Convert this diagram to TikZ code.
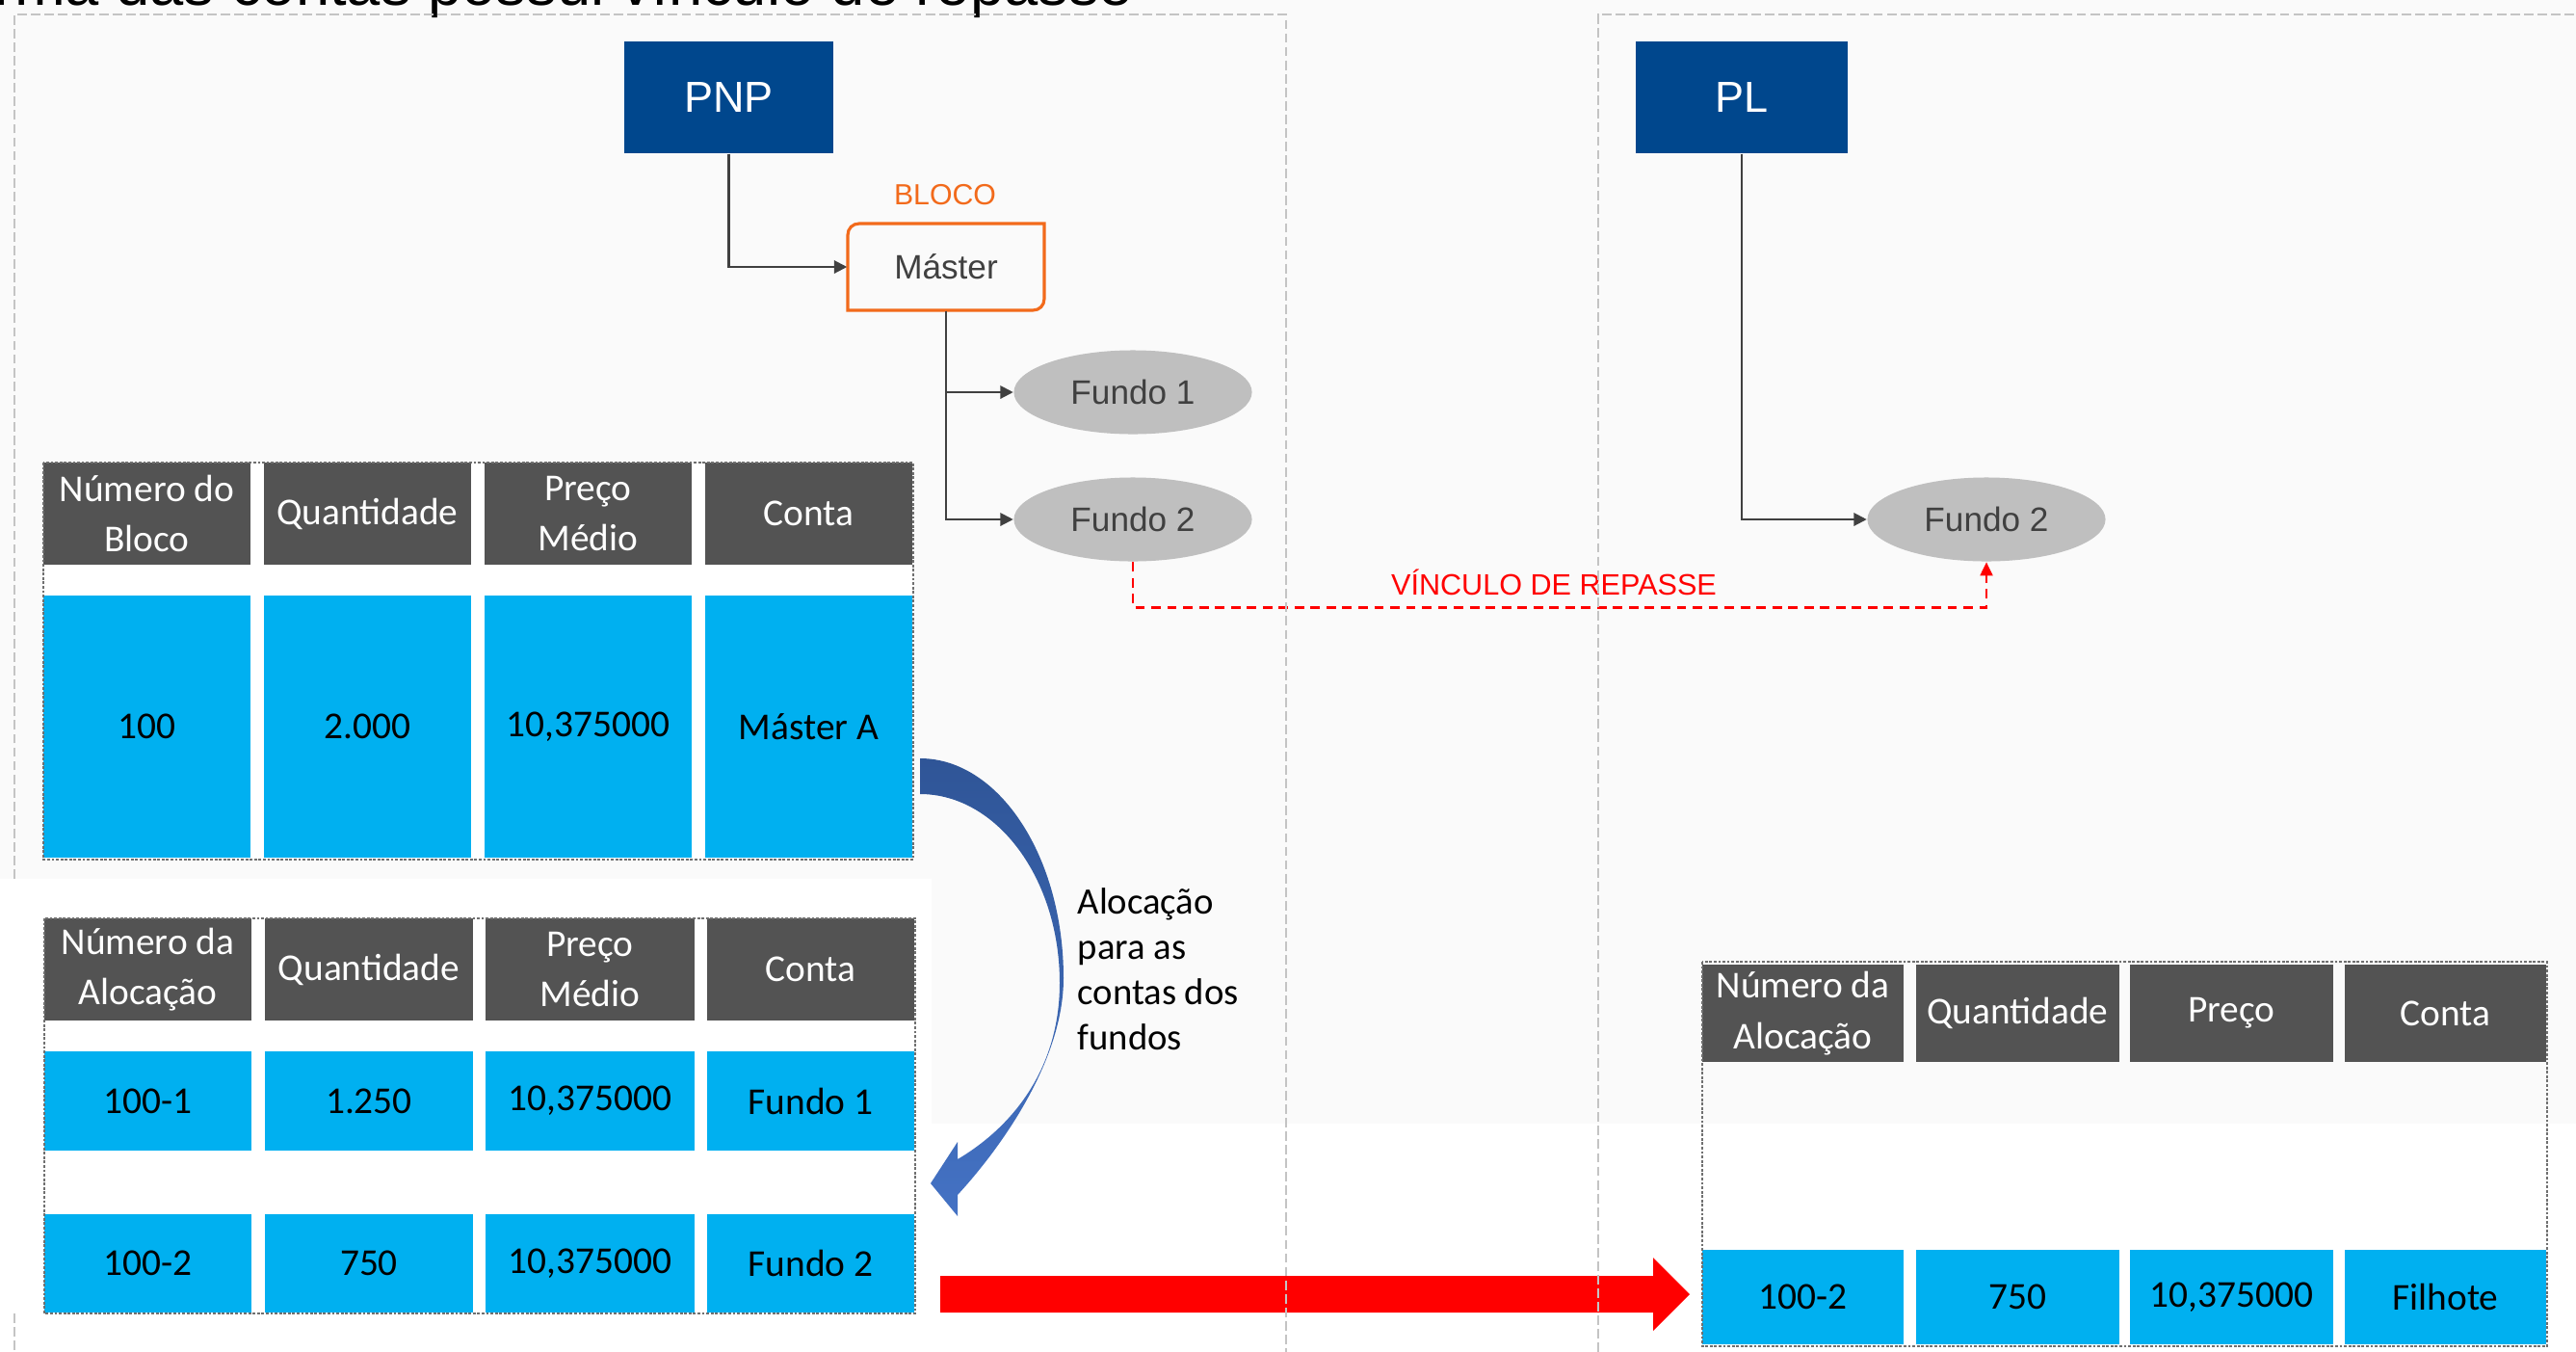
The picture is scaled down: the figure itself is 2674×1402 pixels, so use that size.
\documentclass[tikz,border=0pt]{standalone}
\usepackage{fontspec}
\setmainfont{Liberation Sans}
\newfontfamily\calibri{Carlito}
\usetikzlibrary{shapes.geometric,arrows.meta}
\definecolor{bgc}{HTML}{FAFAFA}
\definecolor{panelc}{HTML}{C4C4C4}
\definecolor{bluec}{HTML}{00478D}
\definecolor{orangec}{HTML}{F26A1B}
\definecolor{darktext}{HTML}{404040}
\definecolor{fundoc}{HTML}{BFBFBF}
\definecolor{hdrc}{HTML}{535353}
\definecolor{cyanc}{HTML}{00B0F0}
\definecolor{redc}{HTML}{FF0000}
\definecolor{arrowdark}{HTML}{2F5597}
\definecolor{arrowlight}{HTML}{4472C4}
\definecolor{tbc}{HTML}{707070}
\newcommand\myfs[2]{\fontsize{#1}{#2}\selectfont}
\begin{document}
\begin{tikzpicture}[x=0.01cm,y=-0.01cm,
  bluebox/.style={rectangle,fill=bluec,text=white,inner sep=0,font=\myfs{12.8}{15}},
  fundo/.style={ellipse,fill=fundoc,text=darktext,inner sep=0,minimum width=2.47cm,minimum height=0.87cm,font=\myfs{10}{12}},
  conn/.style={draw=darktext,line width=0.6pt,-{Triangle[width=3.8pt,length=3.8pt]}},
  vinc/.style={draw=redc,line width=0.8pt,dash pattern=on 2.8pt off 1.9pt,-{Triangle[width=3.6pt,length=4pt]}},
  panel/.style={draw=panelc,line width=0.6pt,dash pattern=on 2.8pt off 1.2pt},
  tborder/.style={draw=tbc,line width=0.7pt,dash pattern=on 0.8pt off 0.5pt},
  hcell/.style={rectangle,fill=hdrc,text=white,inner sep=0,align=center,font=\calibri\myfs{11.2}{15}},
  dcell/.style={rectangle,fill=cyanc,text=black,inner sep=0,align=center,font=\calibri\myfs{11.2}{15}}
]
\useasboundingbox (0,0) rectangle (2674,1402);
\clip (0,0) rectangle (2674,1402);
% backgrounds
\fill[bgc] (0,0) rectangle (2674,1166);
\fill[white] (0,1166) rectangle (2674,1402);
\fill[white] (0,912) rectangle (967,1364);
\fill[white] (45,480) rectangle (948,892);
% cut-off title
\node[anchor=base east,inner sep=0,font=\myfs{18}{20}] (title) at (1177,5) {rma das contas possui vínculo de repasse};

% top diagram
\node[bluebox,minimum width=2.17cm,minimum height=1.16cm] (pnp) at (756.5,101) {PNP};
\node[bluebox,minimum width=2.19cm,minimum height=1.16cm] (pl) at (1808,101) {PL};
\node[text=orangec,inner sep=0,font=\myfs{8.6}{10}] (bloco) at (981,202) {BLOCO};
\node[rectangle,inner sep=0,minimum width=2.04cm,minimum height=0.9cm,text=darktext,font=\myfs{10}{12}] (master) at (982,277) {Máster};
\draw[orangec,line width=0.9pt] (880,322) -- (880,244) .. controls (880,237) and (885,232) .. (892,232) -- (1084,232) -- (1084,310) .. controls (1084,317) and (1079,322) .. (1072,322) -- cycle;
\node[fundo] (f1) at (1176,407) {Fundo 1};
\node[fundo] (f2) at (1176,539) {Fundo 2};
\node[fundo] (f2r) at (2062,539) {Fundo 2};
\draw[conn] (pnp.south) |- (master.west);
\draw[conn] (master.south) |- (f1.west);
\draw[conn] (master.south) |- (f2.west);
\draw[conn] (pl.south) |- (f2r.west);
\draw[vinc] (f2.south) -- ++(0,47) -| (f2r.south);
\node[text=redc,inner sep=0,font=\myfs{8.7}{10}] (vlabel) at (1613,604) {VÍNCULO DE REPASSE};

% table 1
\node[hcell,minimum width=2.15cm,minimum height=1.06cm] (t1h1) at (152.5,533) {Número do\\Bloco};
\node[hcell,minimum width=2.15cm,minimum height=1.06cm] (t1h2) at (381.5,533) {Quantidade};
\node[hcell,minimum width=2.15cm,minimum height=1.06cm] (t1h3) at (610.5,533) {Preço\\Médio};
\node[hcell,minimum width=2.15cm,minimum height=1.06cm] (t1h4) at (839.5,533) {Conta};
\node[dcell,minimum width=2.15cm,minimum height=2.72cm] (t1d1) at (152.5,754) {100};
\node[dcell,minimum width=2.15cm,minimum height=2.72cm] (t1d2) at (381.5,754) {2.000};
\node[dcell,minimum width=2.15cm,minimum height=2.72cm] (t1d3) at (610.5,754) {10,375000};
\node[dcell,minimum width=2.15cm,minimum height=2.72cm] (t1d4) at (839.5,754) {Máster A};
\draw[tborder] (45,480) rectangle (948,892);

% table 2
\node[hcell,minimum width=2.15cm,minimum height=1.06cm] (t2h1) at (153.5,1006) {Número da\\Alocação};
\node[hcell,minimum width=2.16cm,minimum height=1.06cm] (t2h2) at (383,1006) {Quantidade};
\node[hcell,minimum width=2.16cm,minimum height=1.06cm] (t2h3) at (612.5,1006) {Preço\\Médio};
\node[hcell,minimum width=2.15cm,minimum height=1.06cm] (t2h4) at (841.5,1006) {Conta};
\node[dcell,minimum width=2.15cm,minimum height=1.03cm] (t2a1) at (153.5,1142.5) {100-1};
\node[dcell,minimum width=2.16cm,minimum height=1.03cm] (t2a2) at (383,1142.5) {1.250};
\node[dcell,minimum width=2.16cm,minimum height=1.03cm] (t2a3) at (612.5,1142.5) {10,375000};
\node[dcell,minimum width=2.15cm,minimum height=1.03cm] (t2a4) at (841.5,1142.5) {Fundo 1};
\node[dcell,minimum width=2.15cm,minimum height=1.02cm] (t2b1) at (153.5,1311) {100-2};
\node[dcell,minimum width=2.16cm,minimum height=1.02cm] (t2b2) at (383,1311) {750};
\node[dcell,minimum width=2.16cm,minimum height=1.02cm] (t2b3) at (612.5,1311) {10,375000};
\node[dcell,minimum width=2.15cm,minimum height=1.02cm] (t2b4) at (841.5,1311) {Fundo 2};
\draw[tborder] (46,953) rectangle (950,1363);

% table 3
\node[hcell,minimum width=2.09cm,minimum height=1.01cm] (t3h1) at (1871.5,1051.5) {Número da\\Alocação};
\node[hcell,minimum width=2.11cm,minimum height=1.01cm] (t3h2) at (2094.5,1051.5) {Quantidade};
\node[hcell,minimum width=2.11cm,minimum height=1.01cm] (t3h3) at (2316.5,1051.5) {Preço};
\node[hcell,minimum width=2.09cm,minimum height=1.01cm] (t3h4) at (2538.5,1051.5) {Conta};
\node[dcell,minimum width=2.09cm,minimum height=0.98cm] (t3d1) at (1871.5,1346) {100-2};
\node[dcell,minimum width=2.11cm,minimum height=0.98cm] (t3d2) at (2094.5,1346) {750};
\node[dcell,minimum width=2.11cm,minimum height=0.98cm] (t3d3) at (2316.5,1346) {10,375000};
\node[dcell,minimum width=2.09cm,minimum height=0.98cm] (t3d4) at (2538.5,1346) {Filhote};
\draw[tborder] (1767,998) rectangle (2644,1397);

% curved allocation arrow
\shade[top color=arrowdark,bottom color=arrowlight]
  (955,787) .. controls (1037,787) and (1104,889) .. (1104,1015)
  .. controls (1104,1100) and (1040,1190) .. (994,1240)
  -- (994,1262) -- (966,1228) -- (994,1185) -- (994,1203)
  .. controls (1050,1170) and (1100,1110) .. (1100,1020)
  .. controls (1100,912) and (1035,824) .. (955,824) -- cycle;
\node[anchor=north west,inner sep=0,align=left,font=\calibri\myfs{11}{13.4}] (aloc) at (1118,921) {Alocação\\para as\\contas dos\\fundos};

% red transfer arrow
\fill[redc] (976,1324) -- (1716,1324) -- (1716,1305) -- (1754,1343) -- (1716,1381) -- (1716,1362) -- (976,1362) -- cycle;

% panels
\draw[panel] (15,912) -- (15,15) -- (1335,15) -- (1335,1420);
\draw[panel] (15,1363) -- (15,1420);
\draw[panel] (2700,15) -- (1659,15) -- (1659,1420);
\end{tikzpicture}
\end{document}
